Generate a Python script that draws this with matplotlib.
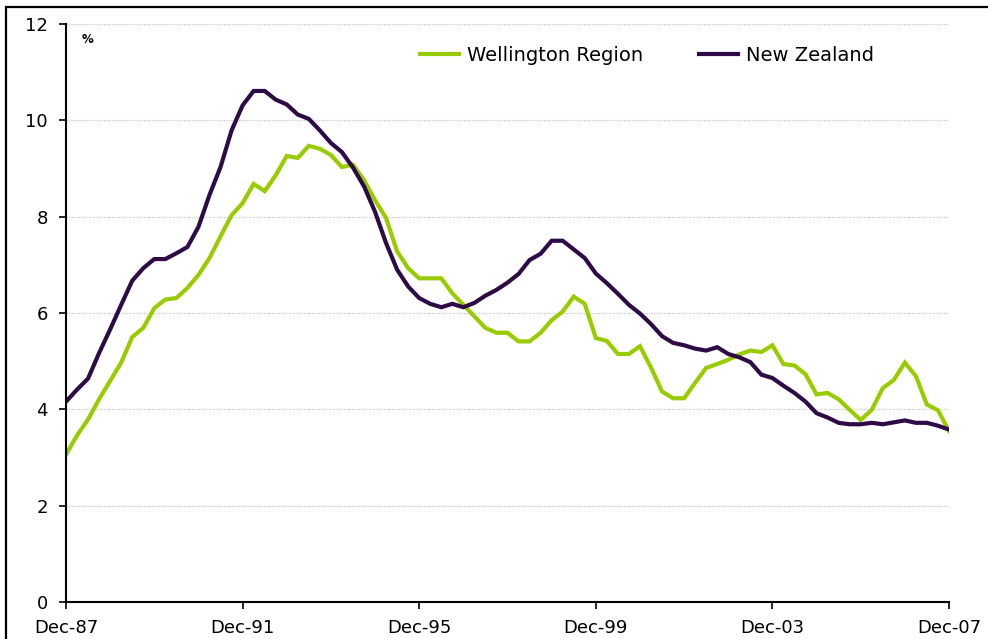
import matplotlib
matplotlib.use('Agg')
import matplotlib.pyplot as plt
from matplotlib.patches import Rectangle

# 季度数据 Dec-87 .. Dec-07 (81 期)
nz = [4.16, 4.41, 4.64, 5.17, 5.66, 6.17, 6.67, 6.93, 7.12, 7.12,
      7.24, 7.37, 7.79, 8.45, 9.03, 9.79, 10.31, 10.61, 10.61, 10.43,
      10.33, 10.12, 10.03, 9.79, 9.53, 9.34, 9.02, 8.63, 8.10, 7.45,
      6.90, 6.55, 6.31, 6.19, 6.12, 6.19, 6.12, 6.21, 6.36, 6.48,
      6.63, 6.81, 7.10, 7.23, 7.50, 7.50, 7.32, 7.14, 6.82, 6.62,
      6.40, 6.17, 5.99, 5.77, 5.52, 5.38, 5.33, 5.26, 5.22, 5.29,
      5.15, 5.08, 4.98, 4.72, 4.65, 4.49, 4.34, 4.16, 3.92, 3.83,
      3.72, 3.69, 3.69, 3.72, 3.69, 3.73, 3.77, 3.72, 3.72, 3.66,
      3.58]
wgtn = [3.06, 3.46, 3.79, 4.21, 4.59, 4.97, 5.50, 5.69, 6.10, 6.28,
        6.31, 6.52, 6.79, 7.14, 7.59, 8.03, 8.28, 8.68, 8.53, 8.86,
        9.26, 9.22, 9.47, 9.41, 9.28, 9.03, 9.08, 8.76, 8.34, 7.97,
        7.28, 6.93, 6.72, 6.72, 6.72, 6.41, 6.17, 5.93, 5.69, 5.59,
        5.59, 5.41, 5.41, 5.59, 5.85, 6.03, 6.34, 6.19, 5.48, 5.42,
        5.15, 5.15, 5.31, 4.87, 4.37, 4.23, 4.23, 4.55, 4.86, 4.94,
        5.03, 5.14, 5.22, 5.19, 5.33, 4.94, 4.91, 4.73, 4.31, 4.34,
        4.21, 3.99, 3.78, 3.99, 4.44, 4.61, 4.97, 4.69, 4.10, 3.98,
        3.55]
x_labels = ['Dec-87', 'Dec-91', 'Dec-95', 'Dec-99', 'Dec-03', 'Dec-07']
y_ticks = [0, 2, 4, 6, 8, 10, 12]

GREEN = '#99CC00'
PURPLE = '#2E0A47'

fig = plt.figure(figsize=(9.88, 6.39), dpi=100)
ax = fig.add_axes([66/988, 1-602/639, 883/988, 578/639])

q = list(range(len(nz)))
ax.plot(q, wgtn, color=GREEN, lw=3.0, label='Wellington Region', solid_joinstyle='miter')
ax.plot(q, nz, color=PURPLE, lw=3.0, label='New Zealand', solid_joinstyle='miter')

ax.set_xlim(0, len(nz) - 1)
ax.set_ylim(0, 12)
ax.set_xticks([i * 16 for i in range(len(x_labels))])
ax.set_xticklabels(x_labels, fontsize=13)
ax.set_yticks(y_ticks)
ax.set_yticklabels([str(v) for v in y_ticks], fontsize=13)
ax.tick_params(axis='both', direction='out', length=5, width=1.2, color='black')
ax.tick_params(axis='x', pad=7)
ax.tick_params(axis='y', pad=8)

for s in ['top', 'right']:
    ax.spines[s].set_visible(False)
for s in ['left', 'bottom']:
    ax.spines[s].set_linewidth(1.5)

for v in y_ticks[1:]:
    ax.axhline(v, color='#c8c8c8', lw=0.9, ls=(0, (1, 1)), zorder=0)

ax.text(0.018, 0.985, '%', transform=ax.transAxes, fontsize=8.5,
        fontweight='bold', va='top', ha='left')

ax.legend(loc='center left', bbox_to_anchor=(0.401, 0.946), ncol=2,
          frameon=False, fontsize=14, handlelength=2.0, handletextpad=0.4,
          columnspacing=2.9, borderpad=0, borderaxespad=0)

# 外框
fig.patches.append(Rectangle((6/988, -0.1), 1.1, 1 - 7/639 + 0.1,
                             transform=fig.transFigure, fill=False,
                             edgecolor='black', lw=1.6))

plt.savefig('out.png', dpi=100)
